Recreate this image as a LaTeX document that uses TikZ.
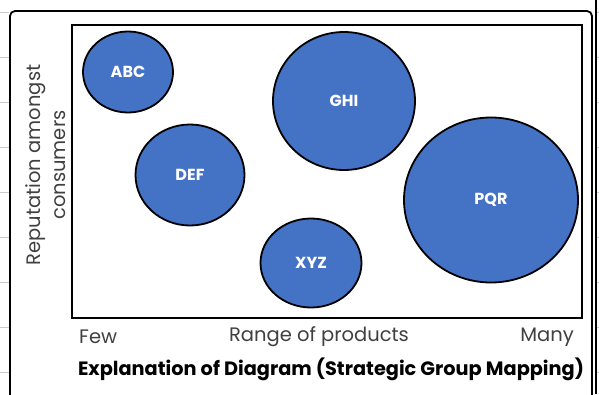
\documentclass[tikz,border=0pt]{standalone}
\usepackage{fontspec}
\setmainfont{Poppins}
\usetikzlibrary{positioning, shapes.geometric}
\definecolor{firmblue}{HTML}{4472C4}
\definecolor{axisgray}{HTML}{404040}

\begin{document}
\begin{tikzpicture}[x=1pt, y=-1pt, >=stealth,
    firm/.style n args={2}{ellipse, draw, line width=1.8pt, fill=firmblue,
      minimum width=#1, minimum height=#2, inner sep=0pt,
      text=white, font=\bfseries\fontsize{16}{18}\selectfont},
    axislabel/.style={text=axisgray, font=\fontsize{19.5}{25}\selectfont, inner sep=0pt}]
  \clip (0,0) rectangle (599,394);
  \fill[white] (0,0) rectangle (599,394);

  % sheet lines at the edges
  \foreach \y in {12,57,...,372} {
    \draw[gray!40, line width=0.6pt] (0,\y) -- (9,\y);
    \draw[gray!40, line width=0.6pt] (597,\y) -- (599,\y);
  }

  % outer card
  \draw[line width=1.8pt, rounded corners=5pt] (10,400) -- (10,11) -- (592,11) -- (592,400);
  \draw[line width=1.2pt] (596,0) -- (596,394);

  % map area
  \node[draw, line width=2.6pt, minimum width=510pt, minimum height=293pt, inner sep=0pt] (map) at (327,171.5) {};

  % strategic groups
  \node[firm={90pt}{81pt}] (abc) at (128,72) {ABC};
  \node[firm={109pt}{101pt}] (def) at (190,175) {DEF};
  \node[firm={142pt}{138pt}] (ghi) at (344,101) {GHI};
  \node[firm={174pt}{165pt}] (pqr) at (491,200) {PQR};
  \node[firm={101pt}{89pt}] (xyz) at (311,263) {XYZ};

  % axes
  \node[axislabel, anchor=west] (few) at (79,337) {Few};
  \node[axislabel] (range) at (319,337) {Range of products};
  \node[axislabel, anchor=east] (many) at (574,337) {Many};
  \node[axislabel, rotate=90, align=center] (reputation) at (46,165) {Reputation amongst\\consumers};

  \node[font=\bfseries\fontsize{19.3}{21}\selectfont, inner sep=0pt] (caption) at (331,369)
    {Explanation of Diagram (Strategic Group Mapping)};
\end{tikzpicture}
\end{document}
